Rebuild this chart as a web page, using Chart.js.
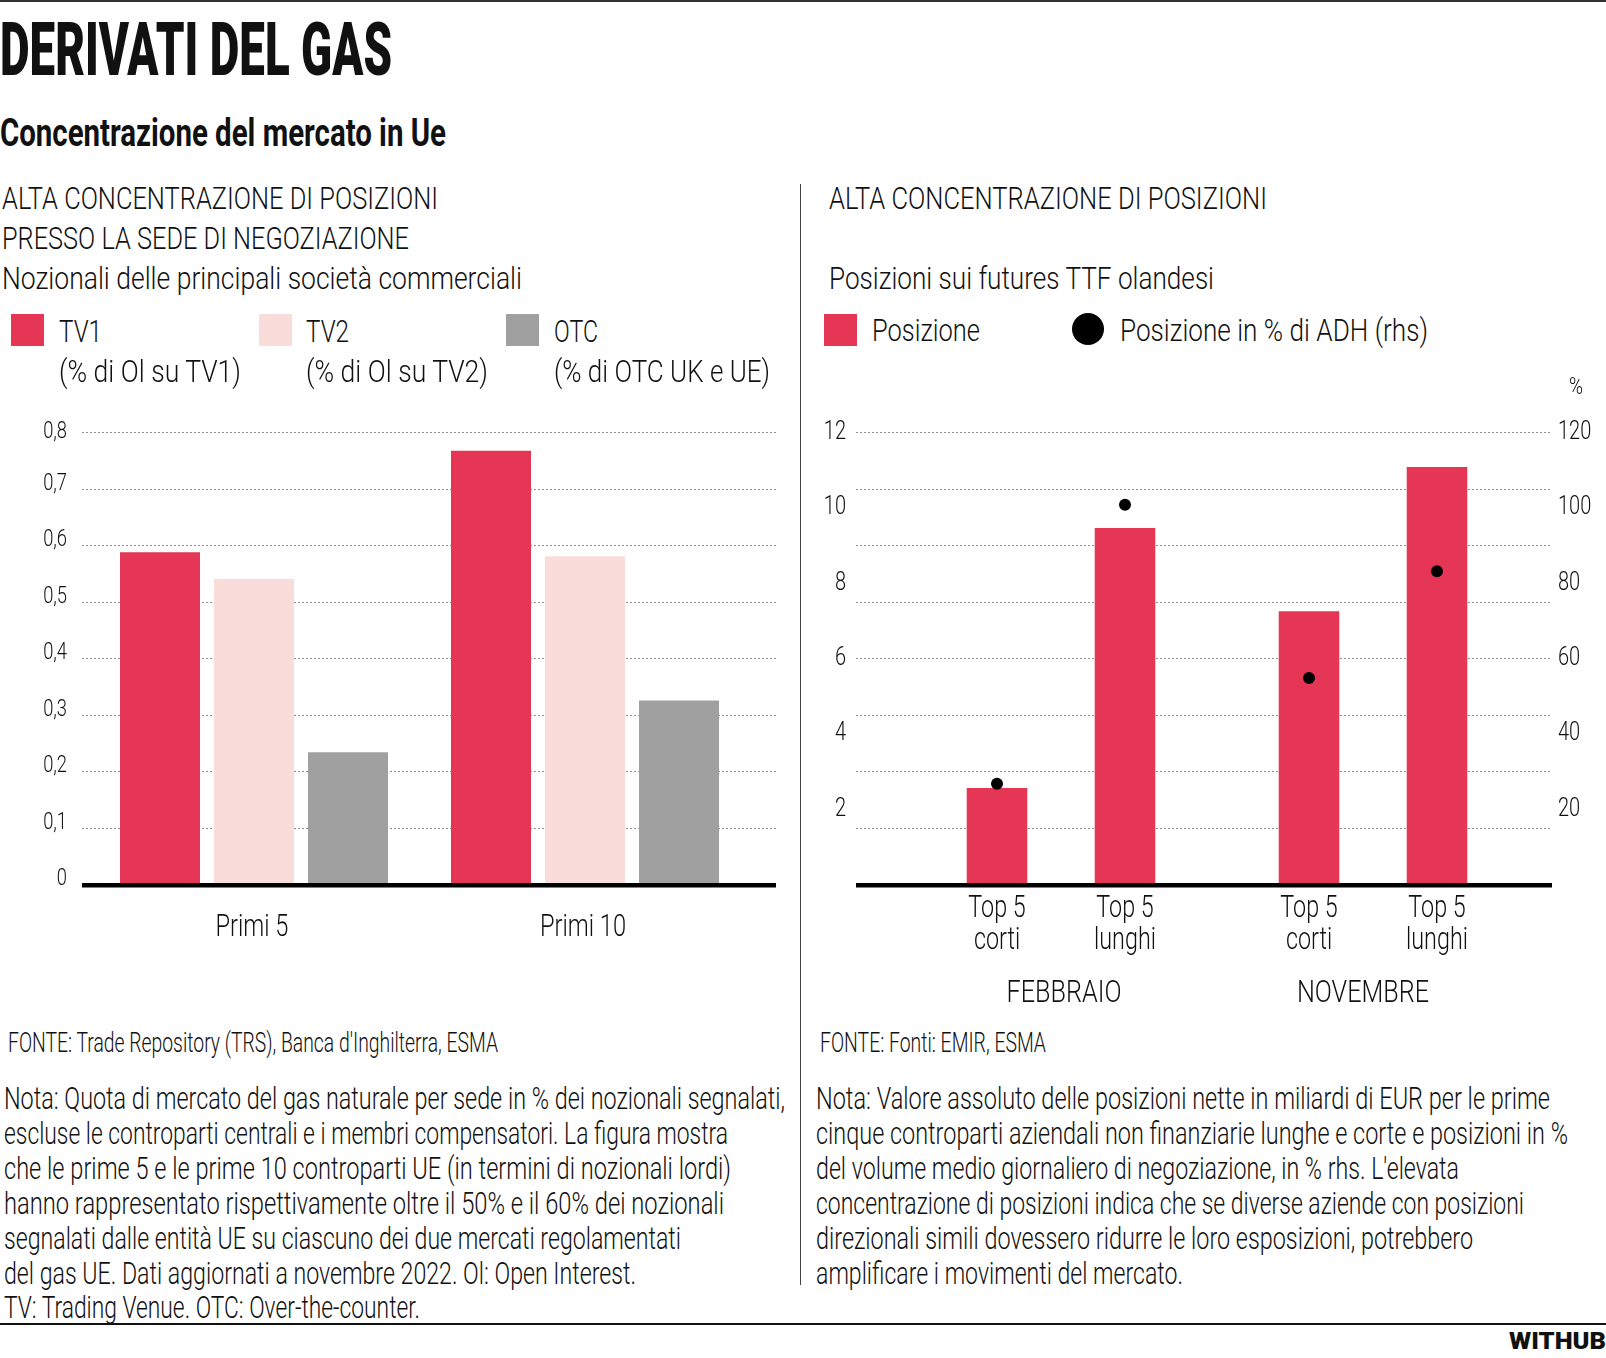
<!DOCTYPE html>
<html lang="it">
<head>
<meta charset="utf-8">
<script src="https://cdn.jsdelivr.net/npm/chart.js@4.4.0/dist/chart.umd.min.js"></script>
<style>
  html,body{margin:0;padding:0;background:#fff;}
  body{width:1606px;height:1358px;position:relative;overflow:hidden;}
  .t{position:absolute;white-space:nowrap;line-height:1;color:#111;}
  .bl{display:inline-block;width:0;height:0;vertical-align:baseline;}
  .rule{position:absolute;background:#222;}
  .sq{position:absolute;width:33px;height:32px;}
  .dot{position:absolute;width:32px;height:32px;border-radius:50%;background:#000;}
  canvas{display:block;}
  .cw{position:absolute;}
</style>
</head>
<body>
<div class="rule" style="left:0;top:0;width:1606px;height:2px;background:#333"></div>
<div class="rule" style="left:800px;top:184px;width:1px;height:1101px;background:#444"></div>
<div class="rule" style="left:0;top:1323px;width:1606px;height:2px;background:#111"></div>

<div class="sq" style="left:11px;top:314px;background:#E63655"></div>
<div class="sq" style="left:259px;top:314px;background:#FADDDA"></div>
<div class="sq" style="left:506px;top:314px;background:#A0A0A0"></div>
<div class="sq" style="left:824px;top:314px;background:#E63655"></div>
<div class="dot" style="left:1072px;top:313px"></div>

<div class="cw" style="left:0;top:380px;width:801px;height:640px"><canvas id="c1"></canvas></div>
<div class="cw" style="left:801px;top:380px;width:805px;height:640px"><canvas id="c2"></canvas></div>

<script>
// ---------------- DATA ----------------
// Left chart: quota dei nozionali (frazione)
const shareCategories = ['Primi 5', 'Primi 10'];
const tv1Values = [0.587, 0.767];
const tv2Values = [0.540, 0.580];
const otcValues = [0.233, 0.325];
const shareTickValues = [0, 0.1, 0.2, 0.3, 0.4, 0.5, 0.6, 0.7, 0.8];
const shareTickLabels = ['0', '0,1', '0,2', '0,3', '0,4', '0,5', '0,6', '0,7', '0,8'];

// Right chart: posizioni sui futures TTF
const months = ['FEBBRAIO', 'NOVEMBRE'];
const sideLabels = [['Top 5', 'corti'], ['Top 5', 'lunghi']];
const positionShort = [2.55, 7.24];   // miliardi EUR
const positionLong = [9.45, 11.07];
const pctShort = [26.6, 54.7];        // % di ADH (rhs)
const pctLong = [100.7, 83.0];
const posTickValues = [2, 4, 6, 8, 10, 12];
const pctTickValues = [20, 40, 60, 80, 100, 120];

// ---------------- STYLE ----------------
const FONT = "Roboto, 'Open Sans', 'DejaVu Sans', sans-serif";
const RED = '#E63655', PINK = '#FADDDA', GREY = '#A0A0A0', INK = '#111';

const texts = [
  {t:'DERIVATI DEL GAS', x:0, y:75, s:74, w:900, fw:392},
  {t:'Concentrazione del mercato in Ue', x:0, y:146, s:39, w:700, fw:446},
  {t:'ALTA CONCENTRAZIONE DI POSIZIONI', x:2, y:208.5, s:31.5, w:300, fw:436},
  {t:'PRESSO LA SEDE DI NEGOZIAZIONE', x:2, y:248.5, s:31.5, w:300, fw:407},
  {t:'Nozionali delle principali società commerciali', x:2, y:288.5, s:31.5, w:300, fw:520},
  {t:'ALTA CONCENTRAZIONE DI POSIZIONI', x:829, y:208.5, s:31.5, w:300, fw:438},
  {t:'Posizioni sui futures TTF olandesi', x:829, y:288.5, s:31.5, w:300, fw:385},
  {t:'TV1', x:59, y:342, s:31.5, w:300, fw:43},
  {t:'(% di Ol su TV1)', x:59, y:381.5, s:31.5, w:300, fw:182},
  {t:'TV2', x:306, y:342, s:31.5, w:300, fw:43},
  {t:'(% di Ol su TV2)', x:306, y:381.5, s:31.5, w:300, fw:182},
  {t:'OTC', x:554, y:342, s:31.5, w:300, fw:44},
  {t:'(% di OTC UK e UE)', x:554, y:381.5, s:31.5, w:300, fw:216},
  {t:'Posizione', x:872, y:341, s:31.5, w:300, fw:108},
  {t:'Posizione in % di ADH (rhs)', x:1120, y:341, s:31.5, w:300, fw:308},
  {t:'%', x:1569, y:394, s:24, w:300, fw:14},
  {t:"FONTE: Trade Repository (TRS), Banca d'Inghilterra, ESMA", x:8, y:1052, s:28, w:300, fw:490},
  {t:'FONTE: Fonti: EMIR, ESMA', x:820, y:1052, s:28, w:300, fw:226},
  {t:'WITHUB', x:1509, y:1349, s:23, w:900, fw:97}
];
const notesLeft = [
  ['Nota: Quota di mercato del gas naturale per sede in % dei nozionali segnalati,', 781],
  ['escluse le controparti centrali e i membri compensatori. La figura mostra', 724],
  ['che le prime 5 e le prime 10 controparti UE (in termini di nozionali lordi)', 727],
  ['hanno rappresentato rispettivamente oltre il 50% e il 60% dei nozionali', 720],
  ['segnalati dalle entità UE su ciascuno dei due mercati regolamentati', 677],
  ['del gas UE. Dati aggiornati a novembre 2022. Ol: Open Interest.', 632],
  ['TV: Trading Venue. OTC: Over-the-counter.', 416]
];
const notesRight = [
  ['Nota: Valore assoluto delle posizioni nette in miliardi di EUR per le prime', 734],
  ['cinque controparti aziendali non finanziarie lunghe e corte e posizioni in %', 752],
  ['del volume medio giornaliero di negoziazione, in % rhs. L\'elevata', 643],
  ['concentrazione di posizioni indica che se diverse aziende con posizioni', 708],
  ['direzionali simili dovessero ridurre le loro esposizioni, potrebbero', 657],
  ['amplificare i movimenti del mercato.', 367]
];
notesLeft.forEach((n, i) => texts.push({t:n[0], x:4, y:1109 + i*34.9, s:31.5, w:300, fw:n[1]}));
notesRight.forEach((n, i) => texts.push({t:n[0], x:816, y:1109 + i*34.9, s:31.5, w:300, fw:n[1]}));

function placeText(o) {
  const el = document.createElement('div');
  el.className = 't';
  el.style.font = `${o.w} ${o.s}px ${FONT}`;
  el.style.left = o.x + 'px';
  el.style.top = '0px';
  const sp = document.createElement('span');
  sp.textContent = o.t;
  const bl = document.createElement('span');
  bl.className = 'bl';
  el.appendChild(sp); el.appendChild(bl);
  document.body.appendChild(el);
  const r = el.getBoundingClientRect();
  const nat = sp.getBoundingClientRect().width;
  const blTop = bl.getBoundingClientRect().top - r.top;
  el.style.top = (o.y - blTop) + 'px';
  el.style.transformOrigin = 'left top';
  el.style.transform = `scaleX(${o.fw / nat})`;
}

function ctext(ctx, str, x, y, size, align, sx, weight) {
  ctx.save();
  ctx.font = `${weight || 300} ${size}px ${FONT}`;
  ctx.fillStyle = INK;
  ctx.textAlign = align;
  ctx.textBaseline = 'alphabetic';
  ctx.translate(x, y);
  ctx.scale(sx, 1);
  ctx.fillText(str, 0, 0);
  ctx.restore();
}

function dottedH(ctx, y, x0, x1) {
  ctx.save();
  ctx.strokeStyle = '#8f8f8f';
  ctx.lineWidth = 1;
  ctx.setLineDash([2, 2]);
  ctx.beginPath();
  ctx.moveTo(x0, Math.round(y) + 0.5);
  ctx.lineTo(x1, Math.round(y) + 0.5);
  ctx.stroke();
  ctx.restore();
}
function baseLine(ctx, y, x0, x1) {
  ctx.save();
  ctx.fillStyle = '#000';
  ctx.fillRect(x0, y - 1, x1 - x0, 4.5);
  ctx.restore();
}

function fixedAxis(size) {
  return function (scale) {
    if (scale.isHorizontal()) scale.height = size; else scale.width = size;
  };
}

const leftDecor = {
  id: 'leftDecor',
  beforeDatasetsDraw(chart) {
    const y = chart.scales.y, ctx = chart.ctx;
    y.ticks.forEach(t => { if (t.value > 0) dottedH(ctx, y.getPixelForValue(t.value), 82, 776); });
  },
  afterDatasetsDraw(chart) {
    const y = chart.scales.y, x = chart.scales.x, ctx = chart.ctx;
    baseLine(ctx, y.getPixelForValue(0), 82, 776);
    y.ticks.forEach((t, i) => {
      const off = (t.value === 0.8) ? 5.5 : 1;
      ctext(ctx, shareTickLabels[i], 67, y.getPixelForValue(t.value) + off, 23.5, 'right', 0.78);
    });
    shareCategories.forEach((c, i) => {
      ctext(ctx, c, x.getPixelForValue(i) - 2, 556, 31.5, 'center', 0.75);
    });
  }
};

const rightDecor = {
  id: 'rightDecor',
  beforeDatasetsDraw(chart) {
    const y = chart.scales.y, ctx = chart.ctx;
    const divisions = 8;
    for (let k = 1; k <= divisions; k++) {
      dottedH(ctx, y.getPixelForValue(y.max * k / divisions), 55, 751);
    }
  },
  afterDatasetsDraw(chart) {
    const y = chart.scales.y, y2 = chart.scales.y2, x = chart.scales.x, ctx = chart.ctx;
    baseLine(ctx, y.getPixelForValue(0), 55, 751);
    y.ticks.forEach(t => ctext(ctx, String(t.value), 45, y.getPixelForValue(t.value) + 7, 25, 'right', 0.8));
    y2.ticks.forEach(t => ctext(ctx, String(t.value), 757, y2.getPixelForValue(t.value) + 7, 25, 'left', 0.8));
    const pcts = [pctShort, pctLong];
    [0, 1].forEach(di => {
      const meta = chart.getDatasetMeta(di);
      meta.data.forEach((bar, j) => {
        ctx.save();
        ctx.fillStyle = '#000';
        ctx.beginPath();
        ctx.arc(bar.x, y2.getPixelForValue(pcts[di][j]), 6, 0, Math.PI * 2);
        ctx.fill();
        ctx.restore();
        ctext(ctx, sideLabels[di][0], bar.x, 536.5, 31.5, 'center', 0.74);
        ctext(ctx, sideLabels[di][1], bar.x, 569, 31.5, 'center', 0.74);
      });
    });
    months.forEach((m, i) => ctext(ctx, m, x.getPixelForValue(i) + (i === 0 ? 3 : -10), 622, 31.5, 'center', 0.8));
  }
};

async function init() {
  try {
    await Promise.all([
      document.fonts.load(`300 31px Roboto`),
      document.fonts.load(`700 39px Roboto`),
      document.fonts.load(`900 74px Roboto`)
    ]);
  } catch (e) {}
  texts.forEach(placeText);

  new Chart(document.getElementById('c1'), {
    type: 'bar',
    data: {
      labels: shareCategories,
      datasets: [
        {label: 'TV1', data: tv1Values, backgroundColor: RED},
        {label: 'TV2', data: tv2Values, backgroundColor: PINK},
        {label: 'OTC', data: otcValues, backgroundColor: GREY}
      ]
    },
    options: {
      responsive: true, maintainAspectRatio: false, animation: false,
      layout: {padding: {top: 52, right: 50.5, left: 0, bottom: 0}},
      datasets: {bar: {categoryPercentage: 0.852, barPercentage: 0.851, borderWidth: 0}},
      plugins: {legend: {display: false}, tooltip: {enabled: false}},
      scales: {
        x: {grid: {display: false}, border: {display: false}, ticks: {display: false}, afterFit: fixedAxis(136)},
        y: {min: 0, max: 0.8, grid: {display: false}, border: {display: false}, ticks: {display: false},
            afterBuildTicks: s => { s.ticks = shareTickValues.map(v => ({value: v})); },
            afterFit: fixedAxis(88.5)}
      }
    },
    plugins: [leftDecor]
  });

  new Chart(document.getElementById('c2'), {
    type: 'bar',
    data: {
      labels: months,
      datasets: [
        {label: 'Top 5 corti', data: positionShort, backgroundColor: RED, yAxisID: 'y'},
        {label: 'Top 5 lunghi', data: positionLong, backgroundColor: RED, yAxisID: 'y'}
      ]
    },
    options: {
      responsive: true, maintainAspectRatio: false, animation: false,
      layout: {padding: {top: 52, right: 0, left: 0, bottom: 0}},
      datasets: {bar: {categoryPercentage: 0.8205, barPercentage: 0.473, borderWidth: 0}},
      plugins: {legend: {display: false}, tooltip: {enabled: false}},
      scales: {
        x: {grid: {display: false}, border: {display: false}, ticks: {display: false}, afterFit: fixedAxis(136)},
        y: {position: 'left', min: 0, max: 12, grid: {display: false}, border: {display: false}, ticks: {display: false},
            afterBuildTicks: s => { s.ticks = posTickValues.map(v => ({value: v})); },
            afterFit: fixedAxis(104)},
        y2: {position: 'right', min: 0, max: 120, grid: {display: false}, border: {display: false}, ticks: {display: false},
            afterBuildTicks: s => { s.ticks = pctTickValues.map(v => ({value: v})); },
            afterFit: fixedAxis(77)}
      }
    },
    plugins: [rightDecor]
  });
}
init();
</script>
</body>
</html>
